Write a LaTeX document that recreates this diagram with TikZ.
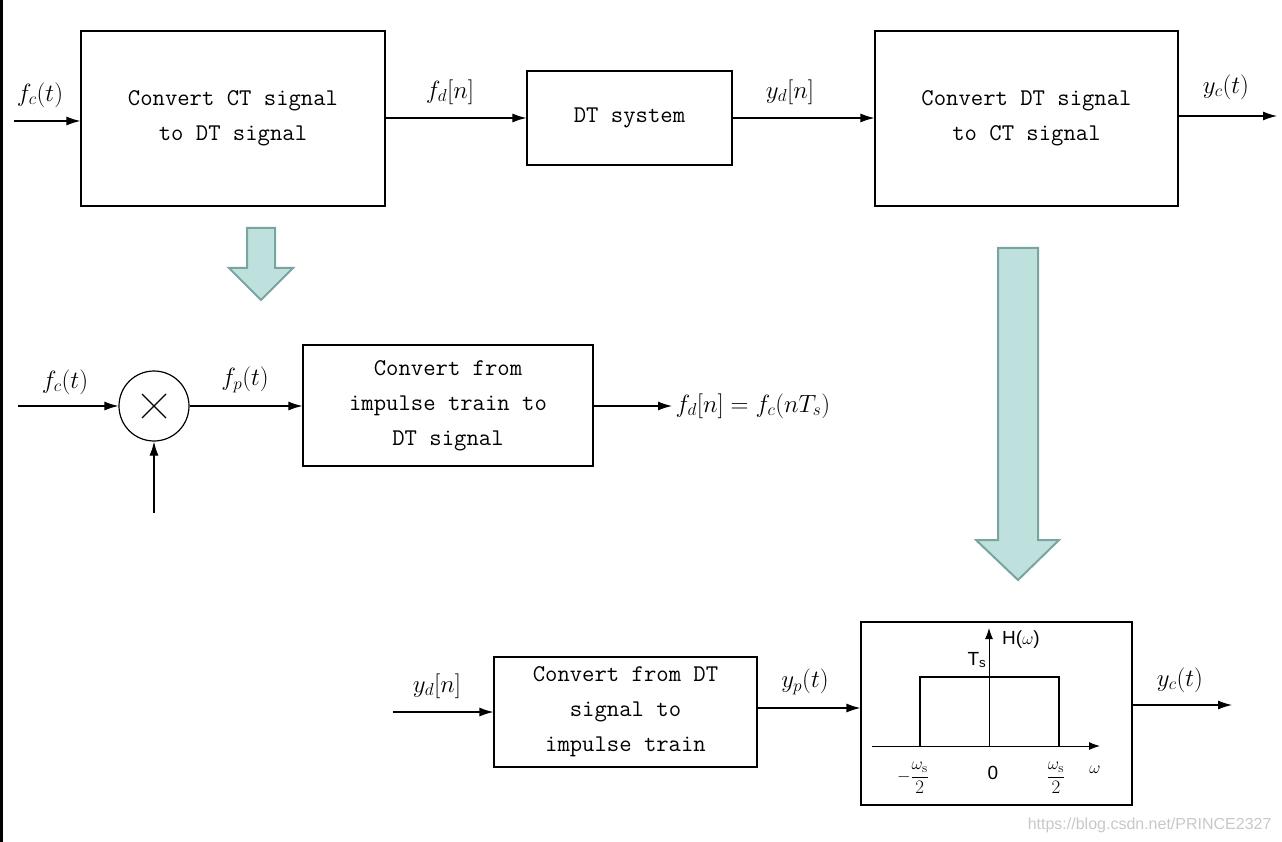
\documentclass[tikz,border=0pt]{standalone}
\usepackage{fontspec}
\newfontfamily\sansf{Liberation Sans}
\usetikzlibrary{arrows.meta,shapes.arrows,calc}
\begin{document}
\begin{tikzpicture}[x=1pt,y=-1pt,
 blk/.style={draw,line width=1.2pt,align=center,font=\fontsize{24}{35}\ttfamily,inner sep=0},
 ar/.style={-{Latex[length=14pt,width=9pt]},line width=1.2pt},
 lb/.style={font=\fontsize{24}{26}\selectfont},
 big/.style={fill={rgb,255:red,190;green,225;blue,222},draw={rgb,255:red,120;green,165;blue,160},line width=2pt}]
\useasboundingbox (0,0) rectangle (1282,842);
\fill[black] (0,0) rectangle (3,842);
% row 1
\node[blk,minimum width=304,minimum height=175] (b1) at (233,118.5) {Convert CT signal\\to DT signal};
\node[blk,minimum width=205,minimum height=94] (b2) at (629.5,118) {DT system};
\node[blk,minimum width=303,minimum height=175] (b3) at (1026.5,118.5) {Convert DT signal\\to CT signal};
\coordinate (in1) at (14,121);
\coordinate (out1) at (1277,116);
\draw[ar] (in1) -- (in1 -| b1.west);
\draw[ar] (b1.east |- 0,118) -- (b2.west |- 0,118);
\draw[ar] (b2.east) -- (b3.west |- b2.east);
\draw[ar] (b3.east |- out1) -- (out1);
\node[lb] (l1) at (40,95) {$f_c(t)$};
\node[lb] (l2) at (450,92) {$f_d[n]$};
\node[lb] (l3) at (790,92) {$y_d[n]$};
\node[lb] (l4) at (1226,87) {$y_c(t)$};
% big arrows
\draw[big] (247,228) -- (275,228) -- (275,268) -- (293,268) -- (261,300) -- (229,268) -- (247,268) -- cycle;
\draw[big] (998,248) -- (1038,248) -- (1038,540) -- (1059,540) -- (1018,580) -- (976,540) -- (998,540) -- cycle;
% row 2
\node[draw,circle,line width=1.2pt,minimum size=70,inner sep=0] (m) at (154,406) {};
\draw[line width=1.2pt] ($(m.center)+(-12,-12)$) -- ++(24,24) ($(m.center)+(-12,12)$) -- ++(24,-24);
\coordinate (in2) at (18,406);
\coordinate (in3) at (154,513);
\draw[ar] (in2) -- (m.west);
\draw[ar] (in3) -- (m.south);
\node[lb] (l5) at (65,382) {$f_c(t)$};
\node[blk,minimum width=290,minimum height=121] (b4) at (448,405.5) {Convert from\\impulse train to\\DT signal};
\draw[ar] (m.east) -- (b4.west |- m.east);
\node[lb] (l6) at (245,380) {$f_p(t)$};
\node[lb,anchor=west] (l7) at (672,406) {$f_d[n]=f_c(nT_s)$};
\draw[ar] (b4.east |- l7.west) -- (l7.west);
% row 3
\node[blk,minimum width=263,minimum height=110] (b5) at (625.5,712) {Convert from DT\\signal to\\impulse train};
\node[draw,line width=1.2pt,minimum width=271,minimum height=183,inner sep=0] (f) at (996.5,713.5) {};
\coordinate (in4) at (393,712);
\coordinate (out4) at (1232,705);
\draw[ar] (in4) -- (b5.west);
\draw[ar] (b5.east |- 0,708) -- (f.west |- 0,708);
\draw[ar] (f.east |- out4) -- (out4);
\node[lb] (l8) at (437,686) {$y_d[n]$};
\node[lb] (l9) at (805,682) {$y_p(t)$};
\node[lb] (l10) at (1180,680) {$y_c(t)$};
% filter plot
\draw[-{Latex[length=11pt,width=8pt]},line width=1pt] (872,746) -- (1100,746);
\draw[-{Latex[length=11pt,width=8pt]},line width=1pt] (989,746) -- (989,628);
\draw[line width=2pt] (920,746) -- (920,677) -- (1059,677) -- (1059,746);
\begin{scope}[font=\sansf\fontsize{19}{20}\selectfont]
\node (ts) at (977,660) {T\textsubscript{s}};
\node (h) at (1021,640) {H($\omega$)};
\node (z) at (993,773) {0};
\node (w) at (1095,770) {$\omega$};
\node (wm) at (913,778) {$\displaystyle -\frac{\omega_{\mathrm s}}{\mathrm 2}$};
\node (wp) at (1056,778) {$\displaystyle \frac{\omega_{\mathrm s}}{\mathrm 2}$};
\end{scope}
\node[text={rgb,255:red,200;green,200;blue,200},font=\sansf\fontsize{16}{18}\selectfont,anchor=east] (wmk) at (1275,825) {https://blog.csdn.net/PRINCE2327};
\end{tikzpicture}
\end{document}
